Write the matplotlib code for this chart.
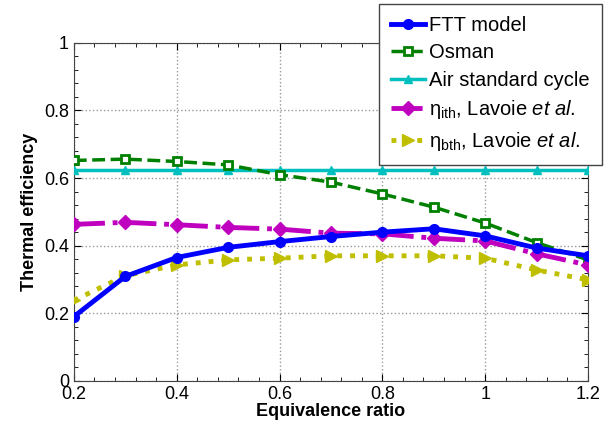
import matplotlib
matplotlib.use("Agg")
import matplotlib.pyplot as plt
from matplotlib.ticker import MultipleLocator, FormatStrFormatter

plt.rcParams['font.family'] = ['Liberation Sans', 'DejaVu Sans']
plt.rcParams['mathtext.fontset'] = 'custom'
plt.rcParams['mathtext.rm'] = 'Liberation Sans'
plt.rcParams['mathtext.it'] = 'Liberation Sans:italic'
plt.rcParams['mathtext.default'] = 'regular'

phi = [0.2, 0.3, 0.4, 0.5, 0.6, 0.7, 0.8, 0.9, 1.0, 1.1, 1.2]
ftt = [0.19, 0.309, 0.365, 0.395, 0.412, 0.427, 0.44, 0.45, 0.429, 0.393, 0.37]
osman = [0.652, 0.656, 0.649, 0.639, 0.61, 0.588, 0.553, 0.514, 0.467, 0.409, 0.358]
air = [0.624] * 11
ith = [0.463, 0.469, 0.462, 0.454, 0.449, 0.437, 0.435, 0.422, 0.414, 0.376, 0.343]
bth = [0.238, 0.311, 0.343, 0.358, 0.363, 0.37, 0.37, 0.37, 0.363, 0.328, 0.299]

fig = plt.figure(figsize=(6.1, 4.28), dpi=100)
ax = fig.add_axes([0.121, 0.110, 0.843, 0.790])

ax.plot(phi, ftt, '-o', color='#0000ff', lw=3.5, ms=7, label='FTT model', zorder=5)
ax.plot(phi, osman, '--s', color='#008000', lw=2.5, ms=6, mfc='white', mew=2,
        label='Osman', zorder=4)
ax.plot(phi, air, '-^', color='#00bfbf', lw=2.5, ms=6, label='Air standard cycle', zorder=3)
ax.plot(phi, ith, '-.D', color='#bf00bf', lw=3.5, ms=7,
        label=r'$\eta_{ith}$, Lavoie $\mathit{et\ al.}$', zorder=4)
ax.plot(phi, bth, ':>', color='#bfbf00', lw=3.5, ms=8,
        label=r'$\eta_{bth}$, Lavoie $\mathit{et\ al.}$', zorder=3)

ax.set_xlim(0.2, 1.2)
ax.set_ylim(0, 1)
ax.xaxis.set_major_locator(MultipleLocator(0.2))
ax.xaxis.set_minor_locator(MultipleLocator(0.04))
ax.yaxis.set_major_locator(MultipleLocator(0.2))
ax.yaxis.set_minor_locator(MultipleLocator(0.04))
ax.xaxis.set_major_formatter(FormatStrFormatter('%g'))
ax.yaxis.set_major_formatter(FormatStrFormatter('%g'))
ax.tick_params(which='both', direction='in', top=True, right=True, labelsize=13)
ax.tick_params(which='major', length=5)
ax.tick_params(which='minor', length=3)
ax.grid(True, which='major', linestyle=':', color='#999999', linewidth=1)
for s in ax.spines.values():
    s.set_color('#444444')

ax.set_xlabel('Equivalence ratio', fontsize=13, fontweight='bold', labelpad=0)
ax.set_ylabel('Thermal efficiency', fontsize=13, fontweight='bold')

leg = ax.legend(loc='upper right', bbox_to_anchor=(602 / 610, 0.991),
                bbox_transform=fig.transFigure, fontsize=14.5, fancybox=False,
                framealpha=1, edgecolor='#444444', handlelength=1.7,
                handletextpad=0.2, borderpad=0.6, labelspacing=0.42, borderaxespad=0)
leg.set_zorder(10)

fig.savefig('out.png', dpi=100)
